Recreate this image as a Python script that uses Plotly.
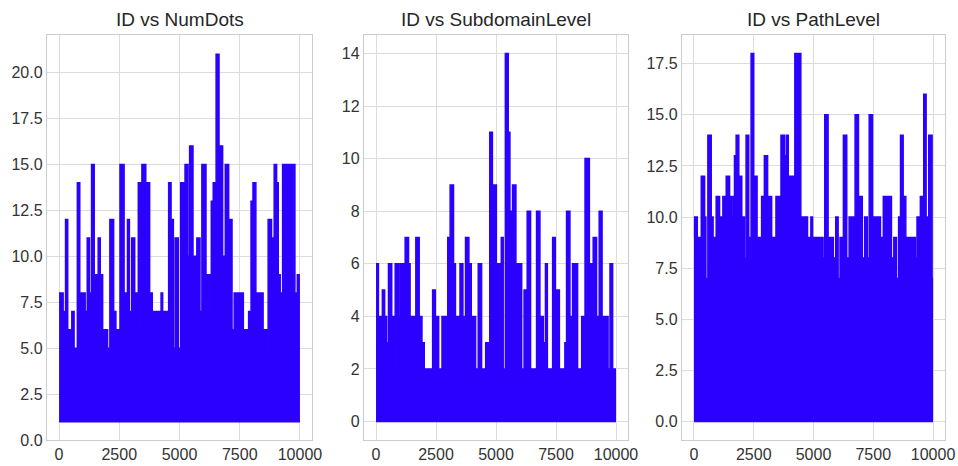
import plotly.graph_objects as go

# ---- data (upper envelope of each dense ID series) ----
# Each series: segment start IDs and the maximum value reached in that ID segment.
id_end = 10000
x_ticks = [0, 2500, 5000, 7500, 10000]
x_tick_labels = ["0", "2500", "5000", "7500", "10000"]

numdots_floor = 1
numdots_ids = [1, 170, 270, 360, 530, 625, 760, 860, 1085, 1170, 1265, 1350, 1460, 1625, 1710,
               1810, 2015, 2110, 2266, 2360, 2530, 2700, 2780, 2840, 2920, 3015, 3140, 3266,
               3290, 3400, 3440, 3600, 3760, 3870, 4030, 4080, 4235, 4300, 4550, 4650, 4745,
               4820, 4950, 5050, 5230, 5350, 5420, 5560, 5720, 5850, 5930, 6100, 6260, 6320,
               6400, 6520, 6640, 6790, 6900, 7040, 7180, 7270, 7650, 7870, 7970, 8050, 8170,
               8470, 8630, 8680, 8820, 8930, 9030, 9100, 9180, 9230, 9280, 9400, 9460, 9790,
               9890]
numdots_max = [8, 7, 12, 6, 7, 5, 14, 8, 7, 11, 8, 15, 9, 11, 9,
               6, 5, 12, 7, 6, 15, 8, 6, 12, 7, 11, 8, 6,
               14, 6, 15, 14, 8, 7, 6, 7, 8, 7, 14, 12, 5,
               11, 5, 14, 15, 10, 16, 10, 11, 7, 15, 9, 7, 13,
               14, 21, 16, 10, 15, 12, 6, 8, 6, 7, 13, 14, 8,
               6, 5, 12, 11, 15, 14, 9, 8, 6, 15, 6, 15, 8,
               9]

sub_floor = 0
sub_ids = [1, 100, 265, 360, 440, 520, 655, 760, 800, 935, 1000, 1215, 1355, 1420, 1660,
           1800, 1915, 2010, 2360, 2470, 2610, 2750, 2990, 3090, 3230, 3310, 3500, 3620,
           3730, 3870, 3970, 4150, 4260, 4400, 4570, 4740, 4850, 5015, 5220, 5300, 5390,
           5510, 5580, 5690, 5830, 6070, 6170, 6250, 6300, 6440, 6690, 6830, 6970, 7060,
           7140, 7360, 7470, 7640, 7870, 7940, 8080, 8190, 8400, 8570, 8710, 8890, 8990,
           9050, 9190, 9300, 9420, 9670, 9750, 9860]
sub_max = [6, 4, 5, 4, 3, 6, 4, 2, 6, 4, 6, 7, 6, 4, 7,
           4, 3, 2, 5, 4, 2, 4, 7, 9, 6, 4, 6, 4,
           7, 6, 4, 2, 6, 2, 3, 11, 9, 6, 7, 2, 14,
           11, 8, 9, 6, 2, 5, 2, 8, 2, 8, 4, 3, 6,
           2, 7, 5, 2, 3, 8, 4, 6, 2, 4, 10, 6, 3,
           7, 4, 8, 4, 2, 6, 2]

path_floor = 0
path_ids = [1, 30, 140, 230, 260, 306, 445, 500, 583, 722, 800, 930, 1070, 1210, 1305,
            1350, 1490, 1560, 1625, 1695, 1765, 1875, 2000, 2110, 2180, 2290, 2340, 2390,
            2500, 2640, 2830, 2945, 3080, 3250, 3430, 3640, 3780, 3860, 3945, 4220, 4470,
            4750, 4890, 4960, 5240, 5280, 5400, 5470, 5610, 5650, 5700, 5830, 5930, 6030,
            6110, 6250, 6390, 6490, 6740, 6880, 7040, 7140, 7250, 7330, 7470, 7800, 7920,
            8260, 8360, 8470, 8560, 8640, 8750, 8860, 8920, 9260, 9330, 9470, 9610, 9710,
            9820, 9960]
path_max = [9, 10, 9, 8, 9, 12, 10, 7, 14, 10, 9, 11, 10, 11, 10,
            12, 11, 10, 11, 13, 14, 12, 10, 8, 14, 9, 8, 18,
            12, 9, 11, 13, 11, 9, 11, 14, 13, 14, 12, 18, 10,
            9, 10, 9, 8, 9, 8, 15, 9, 8, 9, 8, 10, 7,
            9, 14, 8, 10, 15, 11, 8, 10, 8, 15, 10, 9, 11,
            8, 9, 7, 10, 14, 11, 8, 9, 8, 10, 11, 16, 10,
            14, 7]

titles = ["ID vs NumDots", "ID vs SubdomainLevel", "ID vs PathLevel"]
y_ranges = [[0, 22.05], [-0.7, 14.7], [-0.9, 18.9]]
y_ticks = [[0, 2.5, 5, 7.5, 10, 12.5, 15, 17.5, 20],
           [0, 2, 4, 6, 8, 10, 12, 14],
           [0, 2.5, 5, 7.5, 10, 12.5, 15, 17.5]]
y_formats = [".1f", "d", ".1f"]

series = [(numdots_ids, numdots_max, numdots_floor),
          (sub_ids, sub_max, sub_floor),
          (path_ids, path_max, path_floor)]

BLUE = "rgb(44,0,255)"
W, H = 958, 466
x_domains = [[47 / W, 312 / W], [364 / W, 628 / W], [682 / W, 945 / W]]
y_domain = [1 - 440 / H, 1 - 35 / H]

fig = go.Figure()
for i, (ids, vmax, floor) in enumerate(series):
    xa = "x" if i == 0 else f"x{i+1}"
    ya = "y" if i == 0 else f"y{i+1}"
    xs = list(ids) + [id_end]
    ys = list(vmax) + [vmax[-1]]
    fig.add_trace(go.Scatter(x=[ids[0], id_end], y=[floor, floor], mode="lines",
                             line=dict(color=BLUE, width=1.5), xaxis=xa, yaxis=ya,
                             hoverinfo="skip", showlegend=False))
    fig.add_trace(go.Scatter(x=xs, y=ys, mode="lines", line_shape="hv",
                             line=dict(color=BLUE, width=1.5), fill="tonexty",
                             fillcolor=BLUE, xaxis=xa, yaxis=ya,
                             hoverinfo="skip", showlegend=False))

axis_common = dict(showgrid=True, gridcolor="#dcdcdc", gridwidth=1.4, zeroline=False,
                   showline=True, linecolor="#cccccc", linewidth=1.4, mirror=True,
                   automargin=False,
                   ticks="", tickfont=dict(size=16, color="#333333"))
layout = dict(width=W, height=H, margin=dict(l=0, r=0, t=0, b=0),
              paper_bgcolor="white", plot_bgcolor="white",
              font=dict(family="Liberation Sans, Arial, sans-serif", color="#262626"),
              showlegend=False)
annotations = []
for i in range(3):
    sx = "" if i == 0 else str(i + 1)
    layout[f"xaxis{sx}"] = dict(domain=x_domains[i], range=[-500, 10500], tickvals=x_ticks,
                               ticktext=x_tick_labels, anchor=f"y{sx}", **axis_common)
    layout[f"yaxis{sx}"] = dict(domain=y_domain, range=y_ranges[i], tickvals=y_ticks[i],
                               tickformat=y_formats[i], anchor=f"x{sx}", **axis_common)
    annotations.append(dict(text=titles[i], x=sum(x_domains[i]) / 2, y=1 - 20 / H,
                            xref="paper", yref="paper", xanchor="center", yanchor="middle",
                            showarrow=False, font=dict(size=19, color="#262626")))
layout["annotations"] = annotations
fig.update_layout(**layout)
fig.write_html("out.html")
